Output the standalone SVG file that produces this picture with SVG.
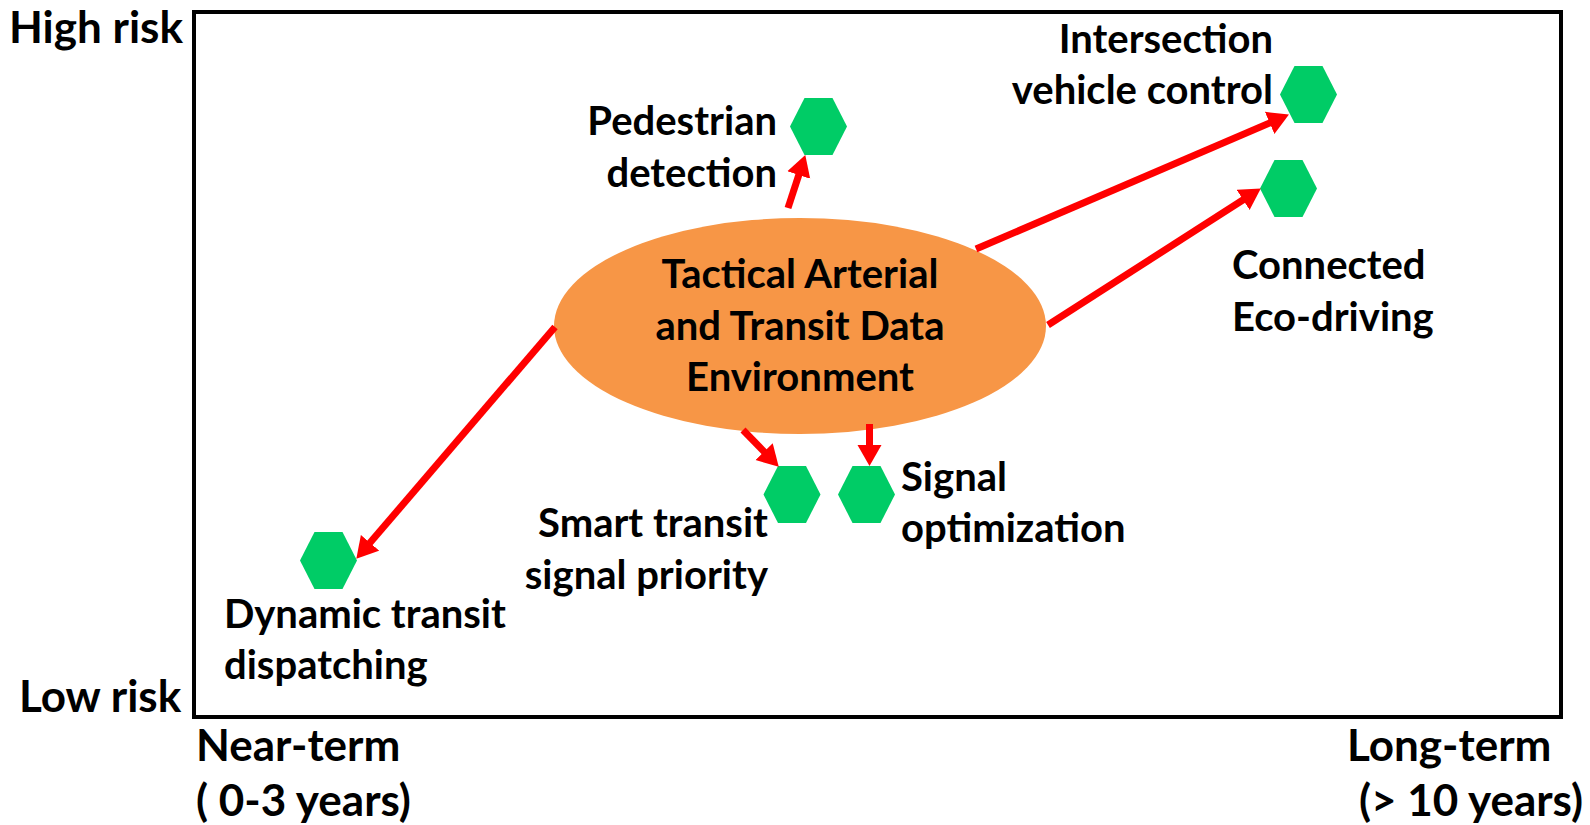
<svg xmlns="http://www.w3.org/2000/svg" width="1590" height="825" viewBox="0 0 1590 825">
<defs>
<style>
text{font-family:Lato,"Liberation Sans",sans-serif;font-weight:bold;font-size:40px;fill:#000}
text.ax{font-size:44px}
.hex{fill:#00CC66}
.arr{stroke:#FF0000;stroke-width:7;fill:none;marker-end:url(#ah)}
.r{text-anchor:end}
.m{text-anchor:middle}
</style>
<marker id="ah" markerUnits="userSpaceOnUse" markerWidth="23" markerHeight="25" refX="2" refY="12" orient="auto" viewBox="0 0 23 24">
<path d="M0,0 L21,12 L0,24 z" fill="#FF0000"/>
</marker>
<polygon id="hexshape" points="-28.5,0 -14,-28.5 14,-28.5 28.5,0 14,28.5 -14,28.5"/>
</defs>
<rect width="1590" height="825" fill="#fff"/>
<rect id="frame" x="194" y="12" width="1367" height="705" fill="none" stroke="#000" stroke-width="4"/>
<g id="axes">
<text class="ax" x="9" y="43">High risk</text>
<text class="ax" x="19" y="712">Low risk</text>
<text class="ax" x="196" y="761">Near-term</text>
<text class="ax" x="196" y="816">( 0-3 years)</text>
<text class="ax" x="1347" y="761">Long-term</text>
<text class="ax" x="1359" y="816">(&gt; 10 years)</text>
</g>
<g id="center">
<ellipse cx="800" cy="326" rx="246" ry="108" fill="#F79646"/>
<text class="m" x="800" y="288">Tactical Arterial</text>
<text class="m" x="800" y="340">and Transit Data</text>
<text class="m" x="800" y="391">Environment</text>
</g>
<g id="pedestrian">
<use href="#hexshape" class="hex" x="818.5" y="126.5"/>
<text class="r" x="777" y="135">Pedestrian</text>
<text class="r" x="777" y="187">detection</text>
</g>
<g id="intersection">
<use href="#hexshape" class="hex" x="1308.5" y="94.5"/>
<text class="r" x="1273" y="53">Intersection</text>
<text class="r" x="1273" y="104">vehicle control</text>
</g>
<g id="ecodriving">
<use href="#hexshape" class="hex" x="1288.5" y="188.5"/>
<text x="1232" y="279">Connected</text>
<text x="1232" y="331">Eco-driving</text>
</g>
<g id="signalopt">
<use href="#hexshape" class="hex" x="866.5" y="494.5"/>
<text x="901" y="491">Signal</text>
<text x="901" y="542">optimization</text>
</g>
<g id="smarttsp">
<use href="#hexshape" class="hex" x="792" y="494.5"/>
<text class="r" x="768" y="537">Smart transit</text>
<text class="r" x="768" y="589">signal priority</text>
</g>
<g id="dispatch">
<use href="#hexshape" class="hex" x="328.5" y="560.5"/>
<text x="224" y="628">Dynamic transit</text>
<text x="224" y="679">dispatching</text>
</g>
<g id="connectors">
<line class="arr" x1="788" y1="208" x2="799.4" y2="173.1"/>
<line class="arr" x1="743" y1="430" x2="765.5" y2="453.1"/>
<line class="arr" x1="869.5" y1="424" x2="869.5" y2="447"/>
<line class="arr" x1="976" y1="249" x2="1271.5" y2="122.1"/>
<line class="arr" x1="1048" y1="325" x2="1244.8" y2="198.7"/>
<line class="arr" x1="555" y1="327" x2="368.7" y2="544.3"/>
</g>
</svg>
